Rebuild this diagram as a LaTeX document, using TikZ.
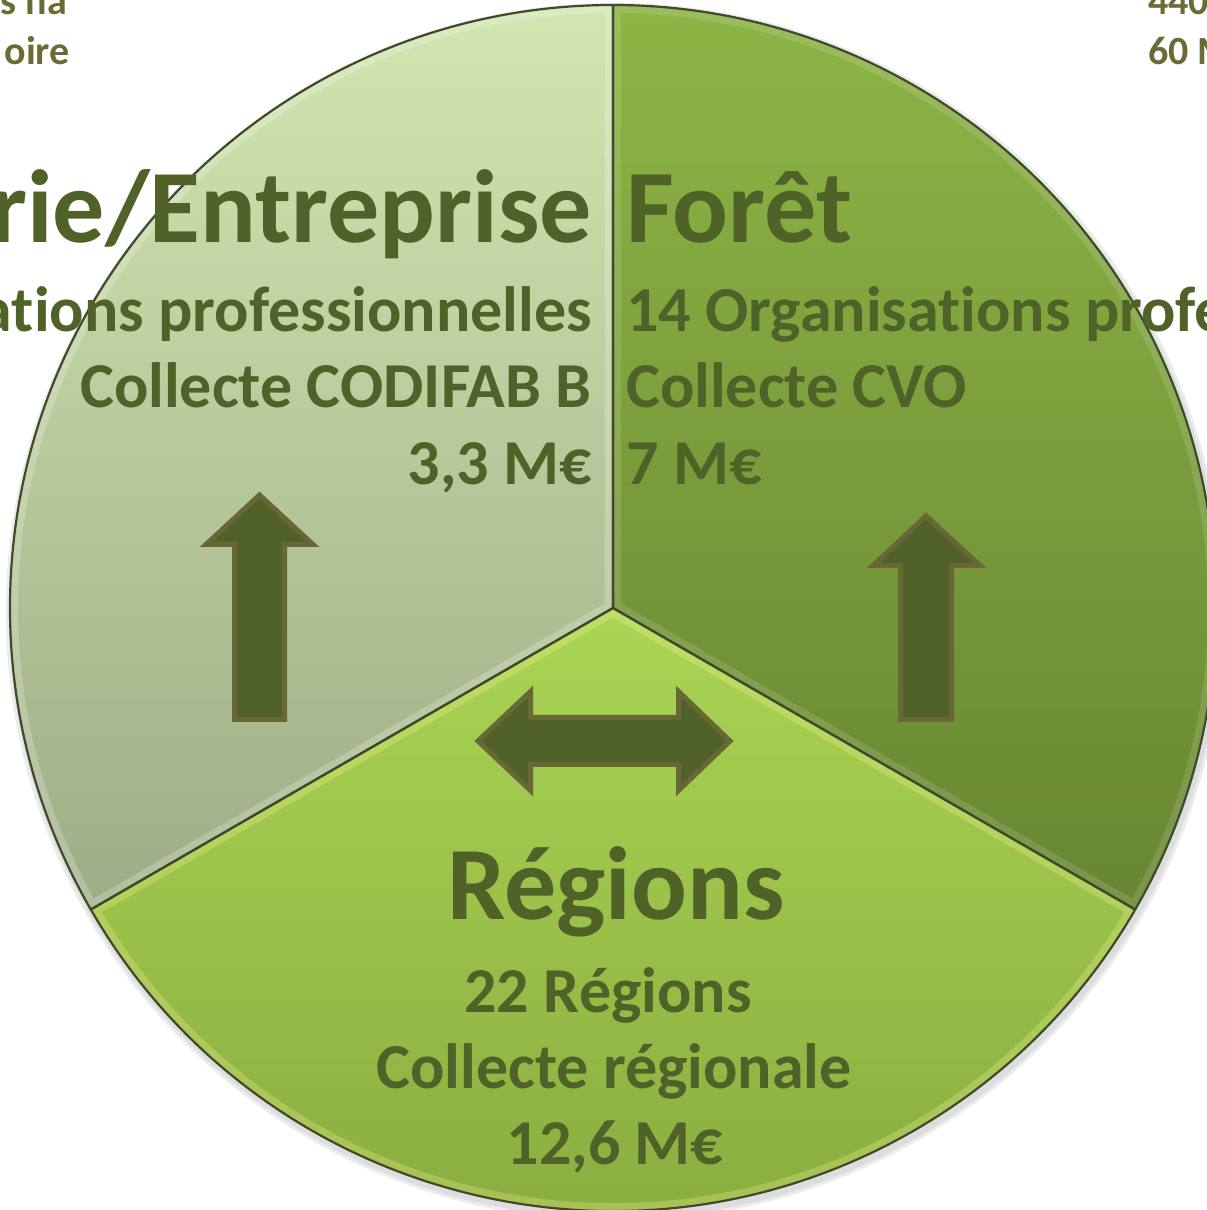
\documentclass[tikz,border=0pt]{standalone}
\usepackage{fontspec}
\setmainfont{Carlito}[Ligatures={NoCommon}]
\definecolor{txt}{HTML}{4F6228}
\definecolor{olv}{HTML}{6B6B35}
\definecolor{arrfill}{HTML}{506229}
\definecolor{arrline}{HTML}{686836}
\definecolor{edge}{HTML}{3F4A2A}
\definecolor{lt}{HTML}{D1E6B0}
\definecolor{lb}{HTML}{9EAD87}
\definecolor{rt}{HTML}{8DB546}
\definecolor{rb}{HTML}{688632}
\definecolor{bt}{HTML}{AAD553}
\definecolor{bb}{HTML}{86A83E}
\newcommand{\tiNL}{t\kern0pt i}
\tikzset{
  bigtxt/.style={inner sep=0pt, text=txt, font=\fontsize{104}{124}\selectfont\bfseries},
  midtxt/.style={inner sep=0pt, text=txt, font=\fontsize{64}{77}\selectfont\bfseries},
  smalltxt/.style={inner sep=0pt, text=olv, font=\fontsize{40}{49}\selectfont\bfseries},
  fatarrow/.style={fill=arrfill, draw=arrline, line width=5pt, line join=miter},
  sectoredge/.style={draw=edge, line width=2.2pt, line join=round}
}
\begin{document}
\begin{tikzpicture}[x=1pt,y=1pt]
\useasboundingbox (0,0) rectangle (1207,1210);
\clip (0,0) rectangle (1207,1210);
\coordinate (C) at (613,602);
\coordinate (T) at (613,1205);
\coordinate (LL) at (90.8,300.5);
\coordinate (LR) at (1135.2,300.5);
% soft shadow
\fill[black, opacity=0.08] (615,598) circle[radius=609pt];
\fill[black, opacity=0.06] (615,598) circle[radius=606pt];
% left sector
\shade[top color=lt, bottom color=lb] (C) -- (T) arc[start angle=90,end angle=210,radius=603pt] -- cycle;
\begin{scope}
\clip (C) -- (T) arc[start angle=90,end angle=210,radius=603pt] -- cycle;
\draw[white, opacity=0.22, line width=16pt] (C) -- (T) arc[start angle=90,end angle=210,radius=603pt] -- cycle;
\end{scope}
% right sector
\shade[top color=rt, bottom color=rb] (C) -- (LR) arc[start angle=-30,end angle=90,radius=603pt] -- cycle;
\begin{scope}
\clip (C) -- (LR) arc[start angle=-30,end angle=90,radius=603pt] -- cycle;
\draw[white, opacity=0.12, line width=16pt] (C) -- (LR) arc[start angle=-30,end angle=90,radius=603pt] -- cycle;
\end{scope}
% bottom sector
\shade[top color=bt, bottom color=bb] (C) -- (LL) arc[start angle=210,end angle=330,radius=603pt] -- cycle;
\begin{scope}
\clip (C) -- (LL) arc[start angle=210,end angle=330,radius=603pt] -- cycle;
\draw[yellow!40!white, opacity=0.25, line width=16pt] (C) -- (LL) arc[start angle=210,end angle=330,radius=603pt] -- cycle;
\end{scope}
% edges
\draw[sectoredge] (C) -- (T) arc[start angle=90,end angle=210,radius=603pt] -- cycle;
\draw[sectoredge] (C) -- (LR) arc[start angle=-30,end angle=90,radius=603pt] -- cycle;
\draw[sectoredge] (C) -- (LL) arc[start angle=210,end angle=330,radius=603pt] -- cycle;
% arrows
\draw[fatarrow] (259.5,715) -- (206,665.5) -- (234.5,665.5) -- (234.5,490.5) -- (284.5,490.5) -- (284.5,665.5) -- (313,665.5) -- cycle;
\draw[fatarrow] (926,694) -- (873,644.5) -- (900.5,644.5) -- (900.5,490.5) -- (951.5,490.5) -- (951.5,644.5) -- (980,644.5) -- cycle;
\draw[fatarrow] (478,469) -- (530.5,518.5) -- (530.5,492.5) -- (678.5,492.5) -- (678.5,518.5) -- (730,469) -- (678.5,419.5) -- (678.5,445.5) -- (530.5,445.5) -- (530.5,419.5) -- cycle;
% texts left
\node[bigtxt, anchor=base east] (lt1) at (592,967) {rie/Entreprise};
\node[midtxt, anchor=base east] (lt2) at (592,878) {a\tiNL ons professionnelles};
\node[midtxt, anchor=base east] (lt3) at (592,802) {Collecte CODIFAB B};
\node[midtxt, anchor=base east] (lt4) at (592,725) {3,3 M€};
% texts right
\node[bigtxt, anchor=base west] (rt1) at (626,967) {Forêt};
\node[midtxt, anchor=base west] (rt2) at (626,878) {14 Organisa\tiNL ons profe};
\node[midtxt, anchor=base west] (rt3) at (626,802) {Collecte CVO};
\node[midtxt, anchor=base west] (rt4) at (626,725) {7 M€};
% texts bottom
\node[bigtxt, anchor=base] (bt1) at (616,290) {Régions};
\node[midtxt, anchor=base] (bt2) at (608,197) {22 Régions};
\node[midtxt, anchor=base] (bt3) at (614,121) {Collecte régionale};
\node[midtxt, anchor=base] (bt4) at (615,45) {12,6 M€};
% corner fragments
\node[smalltxt, anchor=base east] (c1) at (67,1195) {s na};
\node[smalltxt, anchor=base east] (c2) at (70,1145) {oire};
\node[smalltxt, anchor=base west] (c3) at (1148,1195) {440};
\node[smalltxt, anchor=base west] (c4) at (1148,1145) {60 M};
\end{tikzpicture}
\end{document}
